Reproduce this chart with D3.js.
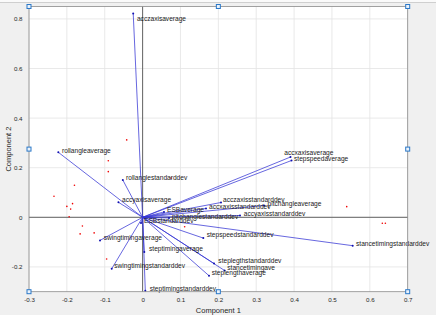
<!DOCTYPE html>
<html lang="en">
<head>
	<meta charset="utf-8">
	<title>Biplot</title>
	<script src="https://cdnjs.cloudflare.com/ajax/libs/d3/7.8.5/d3.min.js"></script>
	<style>
		body { margin: 0; background: #f0f0f0; }
		svg { display: block; font-family: "Liberation Sans", Arial, sans-serif; }
	</style>
</head>
<body>
<script>

	/*//////////////
	//    Data    //
	//////////////*/

	var varNames = ["acczaxisaverage", "rollangleaverage", "rollanglestandarddev", "accyaxisaverage",
		"accxaxisaverage", "stepspeedaverage", "acczaxisstandarddev", "accxaxisstandarddev",
		"pitchangleaverage", "ESBaverage", "pitchanglestandarddev", "accyaxisstandarddev",
		"ESBstandarddev", "swingtimingaverage", "steptimingaverage", "stepspeedstandarddev",
		"stancetimingstandarddev", "steplegthstandarddev", "stancetimingave", "steplengthaverage",
		"swingtimingstandarddev", "steptimingstandarddev"];

	// loadings (component 1, component 2)
	var varX = [-0.0248, -0.2226, -0.0523, -0.0639, 0.3905, 0.3932, 0.2070, 0.1674, 0.3206, 0.0565, 0.0697,
		0.2572, -0.0042, -0.1125, 0.0045, 0.1603, 0.5548, 0.1886, 0.2163, 0.1753, -0.0816, 0.0071];
	var varY = [0.822, 0.2621, 0.1504, 0.0605, 0.2431, 0.2290, 0.0597, 0.0355, 0.0476, 0.0214, -0.0028,
		0.0073, -0.0230, -0.0931, -0.1403, -0.0839, -0.1145, -0.1863, -0.2145, -0.2355, -0.2073, -0.2960];

	// where each label sits
	var labelX = [-0.0150, -0.2128, -0.0438, -0.0544, 0.3742, 0.3998, 0.2123, 0.1753, 0.3298, 0.0644, 0.0776,
		0.2670, 0.0037, -0.1027, 0.0169, 0.1693, 0.5635, 0.2000, 0.2237, 0.1824, -0.0747, 0.0187];
	var labelY = [0.799, 0.2685, 0.1597, 0.0698, 0.2621, 0.2369, 0.0710, 0.0435, 0.0556, 0.0315, 0.0040,
		0.0145, -0.0137, -0.0827, -0.1282, -0.0718, -0.1048, -0.1734, -0.2044, -0.2234, -0.1935, -0.2863];

	// scores
	var obsX = [-0.042, -0.0906, -0.0906, -0.180, -0.234, -0.185, -0.200, -0.190, -0.194, -0.159, -0.165,
		-0.128, -0.095, 0.111, 0.075, 0.539, 0.633, 0.641];
	var obsY = [0.312, 0.228, 0.184, 0.129, 0.085, 0.055, 0.044, 0.033, 0.002, -0.035, -0.067,
		-0.063, -0.168, -0.038, 0.158, 0.043, -0.024, -0.024];

	var xTicks = [-0.3, -0.2, -0.1, 0, 0.1, 0.2, 0.3, 0.4, 0.5, 0.6, 0.7];
	var yTicks = [-0.2, 0, 0.2, 0.4, 0.6, 0.8];

	/*//////////////////////
	//  SVG Canvas Setup  //
	//////////////////////*/

	var w = 436;
	var h = 315;

	var svg = d3.select("body")
		.append("svg")
		.attr("width", w)
		.attr("height", h);

	var x = d3.scaleLinear().domain([-0.3, 0.7]).range([29, 407.7]);
	var y = d3.scaleLinear().domain([-0.3, 0.85]).range([291.7, 6.5]);

	var axLeft = x.range()[0], axRight = x.range()[1];
	var axTop = y.range()[1], axBottom = y.range()[0];

	// figure background + window edge
	svg.append("rect").attr("width", w).attr("height", h).attr("fill", "#f0f0f0");
	svg.append("rect").attr("width", w).attr("height", 2).attr("fill", "#fafafa");
	svg.append("line")
		.attr("x1", 0).attr("x2", w)
		.attr("y1", 2.5).attr("y2", 2.5)
		.attr("stroke", "#cfcfcf");

	// axes area
	svg.append("rect")
		.attr("x", axLeft).attr("y", axTop)
		.attr("width", axRight - axLeft).attr("height", axBottom - axTop)
		.attr("fill", "white");

	// grid
	var grid = svg.append("g").attr("stroke", "#e3e3e3").attr("stroke-width", 0.8);
	grid.selectAll(".gx").data(xTicks).enter().append("line")
		.attr("x1", function(d) { return x(d); }).attr("x2", function(d) { return x(d); })
		.attr("y1", axTop).attr("y2", axBottom);
	grid.selectAll(".gy").data(yTicks).enter().append("line")
		.attr("y1", function(d) { return y(d); }).attr("y2", function(d) { return y(d); })
		.attr("x1", axLeft).attr("x2", axRight);

	// tick labels
	var xAxis = svg.append("g")
		.attr("transform", "translate(0," + axBottom + ")")
		.call(d3.axisBottom(x).tickValues(xTicks).tickSize(0).tickPadding(5.5)
			.tickFormat(function(d) { return String(d); }));
	var yAxis = svg.append("g")
		.attr("transform", "translate(" + axLeft + ",0)")
		.call(d3.axisLeft(y).tickValues(yTicks).tickSize(0).tickPadding(6.5)
			.tickFormat(function(d) { return String(d); }));

	[xAxis, yAxis].forEach(function(a) {
		a.select(".domain").remove();
		a.selectAll("text")
			.attr("fill", "#262626")
			.style("font-size", "6.2px")
			.style("font-family", "'Liberation Sans', Arial, sans-serif");
	});

	// zero lines
	svg.append("line")
		.attr("x1", x(0)).attr("x2", x(0)).attr("y1", axTop).attr("y2", axBottom)
		.attr("stroke", "#555").attr("stroke-width", 0.9);
	svg.append("line")
		.attr("x1", axLeft).attr("x2", axRight).attr("y1", y(0)).attr("y2", y(0))
		.attr("stroke", "#555").attr("stroke-width", 0.9);

	/*///////////////////////
	//  Vectors + scores   //
	///////////////////////*/

	var idx = d3.range(varNames.length);

	svg.append("g").selectAll("line")
		.data(idx).enter().append("line")
		.attr("x1", x(0)).attr("y1", y(0))
		.attr("x2", function(i) { return x(varX[i]); })
		.attr("y2", function(i) { return y(varY[i]); })
		.attr("stroke", "#3434d4")
		.attr("stroke-width", 0.75);

	svg.append("g").selectAll("circle")
		.data(idx).enter().append("circle")
		.attr("cx", function(i) { return x(varX[i]); })
		.attr("cy", function(i) { return y(varY[i]); })
		.attr("r", 1)
		.attr("fill", "#1010b0");

	svg.append("g").selectAll("circle")
		.data(d3.range(obsX.length)).enter().append("circle")
		.attr("cx", function(i) { return x(obsX[i]); })
		.attr("cy", function(i) { return y(obsY[i]); })
		.attr("r", 0.8)
		.attr("fill", "#f00000");

	svg.append("g").selectAll("text")
		.data(idx).enter().append("text")
		.attr("x", function(i) { return x(labelX[i]); })
		.attr("y", function(i) { return y(labelY[i]); })
		.attr("dy", "0.35em")
		.attr("fill", "#1a1a1a")
		.style("font-size", "6.6px")
		.text(function(i) { return varNames[i]; });

	// axes box
	svg.append("rect")
		.attr("x", axLeft).attr("y", axTop)
		.attr("width", axRight - axLeft).attr("height", axBottom - axTop)
		.attr("fill", "none")
		.attr("stroke", "#8a8a8a")
		.attr("stroke-width", 0.8);

	// axis labels
	svg.append("text")
		.attr("x", (axLeft + axRight) / 2).attr("y", 310)
		.attr("dy", "0.35em")
		.attr("text-anchor", "middle")
		.attr("fill", "#262626")
		.style("font-size", "7.5px")
		.text("Component 1");

	svg.append("text")
		.attr("transform", "translate(8," + ((axTop + axBottom) / 2) + ") rotate(-90)")
		.attr("dy", "0.35em")
		.attr("text-anchor", "middle")
		.attr("fill", "#262626")
		.style("font-size", "7.5px")
		.text("Component 2");

	// selection handles on the axes
	var hx = [x.domain()[0], d3.mean(x.domain()), x.domain()[1]];
	var hy = [y.domain()[0], d3.mean(y.domain()), y.domain()[1]];
	var handles = [];
	hx.forEach(function(a, i) {
		hy.forEach(function(b, j) {
			if (!(i == 1 && j == 1)) handles.push([a, b]);
		});
	});

	svg.append("g").selectAll("rect")
		.data(handles).enter().append("rect")
		.attr("x", function(d) { return x(d[0]) - 2; })
		.attr("y", function(d) { return y(d[1]) - 2; })
		.attr("width", 4).attr("height", 4)
		.attr("fill", "#eaf2fb")
		.attr("stroke", "#2b78c8")
		.attr("stroke-width", 1);

</script>
</body>
</html>
